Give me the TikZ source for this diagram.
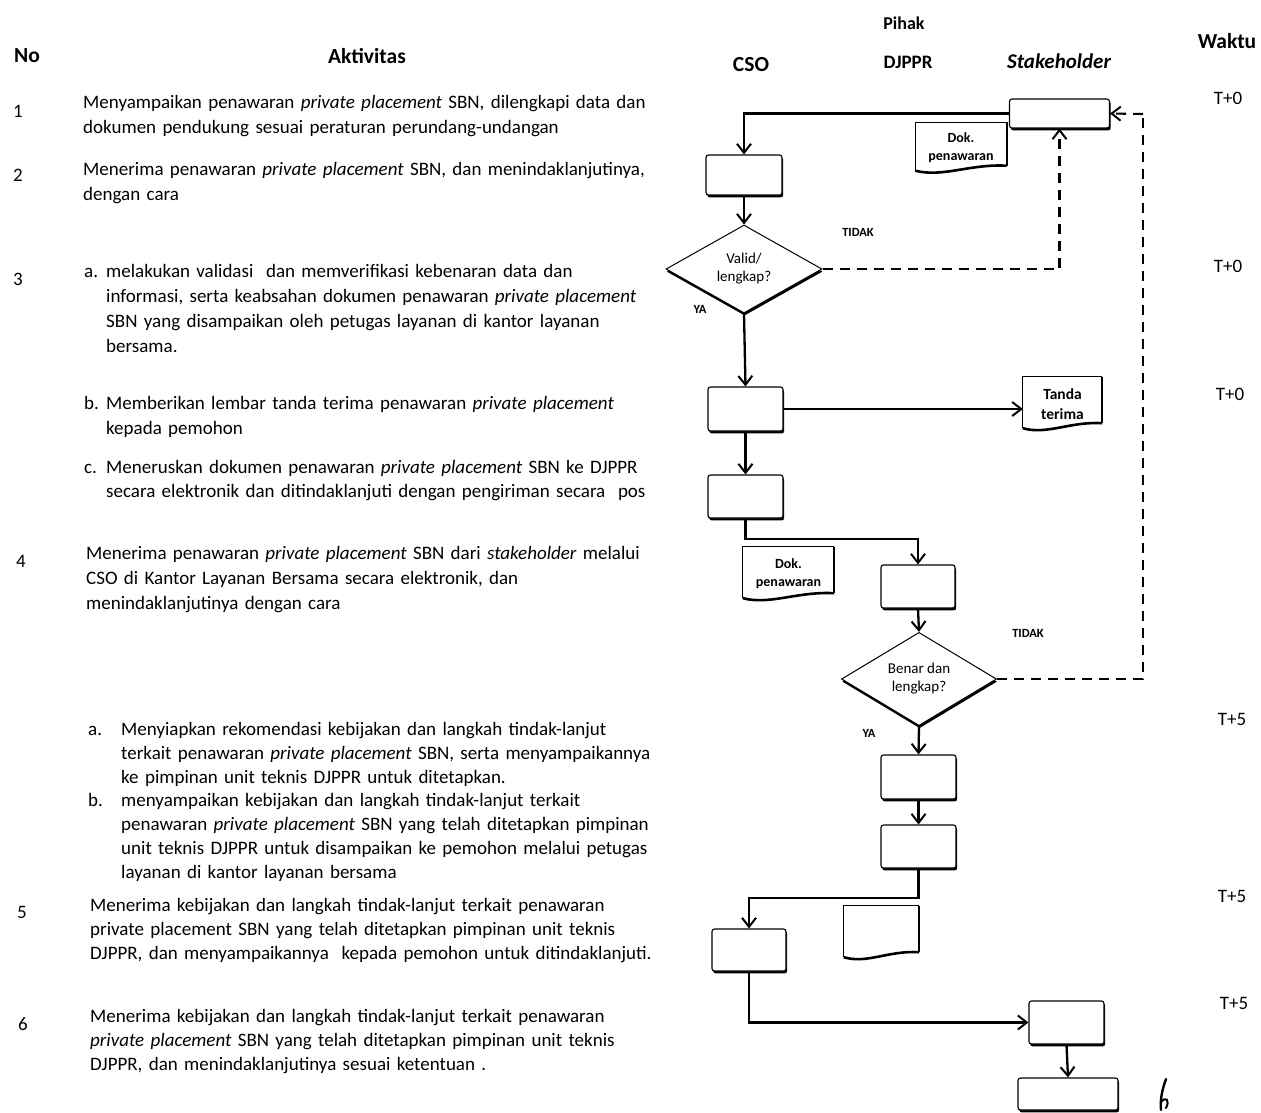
\documentclass[tikz,border=0pt]{standalone}
\usepackage{fontspec}
\setmainfont{Carlito}
\usetikzlibrary{arrows.meta,shapes.geometric,shadows,calc}
\newcommand\docshape[1]{%
  \draw[line width=1.1pt] ($(#1.south west)+(0pt,3pt)$) -- (#1.north west) -- (#1.north east);
  \draw[line width=1.8pt] (#1.north east) -- ($(#1.south east)+(0pt,8pt)$);
  \draw[line width=2.6pt] ($(#1.south west)+(0pt,3pt)$) .. controls ($(#1.south west)!0.3!(#1.south east)+(0pt,-4pt)$) and ($(#1.south west)!0.6!(#1.south east)+(0pt,10pt)$) .. ($(#1.south east)+(0pt,8pt)$);
}
\begin{document}
\begin{tikzpicture}[x=1pt,y=-1pt,
  para/.style={anchor=base west, inner sep=0pt, align=left, text width=640pt, font=\fontsize{19}{25}\selectfont},
  parb/.style={para, font=\fontsize{19}{24}\selectfont},
  lbl/.style={anchor=base west, inner sep=0pt, font=\fontsize{19}{25}\selectfont},
  hdr/.style={inner sep=0pt, font=\bfseries\fontsize{21.5}{24}\selectfont},
  tm/.style={inner sep=0pt, font=\fontsize{19}{22}\selectfont},
  box/.style={rectangle, rounded corners=2.5pt, draw, line width=1.1pt, fill=white, inner sep=0pt,
    drop shadow={shadow xshift=1.2pt, shadow yshift=-2.4pt, opacity=1, fill=black}},
  dec/.style={diamond, draw, line width=1pt, fill=white, inner sep=0pt, align=center,
    font=\fontsize{15}{18}\selectfont,
    drop shadow={shadow xshift=0.6pt, shadow yshift=-2.6pt, opacity=1, fill=black}},
  doc/.style={rectangle, inner sep=0pt, align=center},
  yn/.style={inner sep=0pt, font=\bfseries\fontsize{12.5}{14}\selectfont},
  arr/.style={line width=2.3pt, -{Straight Barb[length=9pt,width=14pt,line width=2pt]}},
  darr/.style={line width=2.1pt, dash pattern=on 10pt off 7pt, -{Straight Barb[length=9pt,width=14pt,line width=2pt]}},
  dln/.style={line width=2.1pt, dash pattern=on 10pt off 7pt}
]
\useasboundingbox (0,0) rectangle (1261,1112);
\fill[white] (0,0) rectangle (1261,1112);

% headers
\node[hdr] (hno) at (27,56) {No};
\node[hdr] (hakt) at (367,56) {Aktivitas};
\node[hdr, font=\bfseries\fontsize{18}{22}\selectfont] (hpihak) at (904,23) {Pihak};
\node[hdr] (hcso) at (751,65) {CSO};
\node[hdr, font=\bfseries\fontsize{19}{22}\selectfont] (hdj) at (908,62) {DJPPR};
\node[hdr, font=\bfseries\itshape\fontsize{21}{24}\selectfont] (hst) at (1059,61) {Stakeholder};
\node[hdr] (hwak) at (1227,41) {Waktu};

% numbers
\node[lbl] (n1) at (13,117) {1};
\node[lbl] (n2) at (13,181) {2};
\node[lbl] (n3) at (13,285) {3};
\node[lbl] (n4) at (16,567) {4};
\node[lbl] (n5) at (17,918) {5};
\node[lbl] (n6) at (18,1030) {6};

% activity texts
\node[para] (t1) at (83,108) {Menyampaikan penawaran \textit{private placement} SBN, dilengkapi data dan\\dokumen pendukung sesuai peraturan perundang-undangan};
\node[para] (t2) at (83,175) {Menerima penawaran \textit{private placement} SBN, dan menindaklanjutinya,\\dengan cara};
\node[lbl] (l3a) at (84,277) {a.};
\node[para] (t3a) at (106,277) {melakukan validasi\ \ dan memverifikasi kebenaran data dan\\informasi, serta keabsahan dokumen penawaran \textit{private placement}\\SBN yang disampaikan oleh petugas layanan di kantor layanan\\bersama.};
\node[lbl] (l3b) at (84,409) {b.};
\node[para] (t3b) at (106,409) {Memberikan lembar tanda terima penawaran \textit{private placement}\\kepada pemohon};
\node[lbl] (l3c) at (84,473) {c.};
\node[para, font=\fontsize{19}{24}\selectfont] (t3c) at (106,473) {Meneruskan dokumen penawaran \textit{private placement} SBN ke DJPPR\\secara elektronik dan ditindaklanjuti dengan pengiriman secara\ \ pos};
\node[para] (t4) at (86,559) {Menerima penawaran \textit{private placement} SBN dari \textit{stakeholder} melalui\\CSO di Kantor Layanan Bersama secara elektronik, dan\\menindaklanjutinya dengan cara};
\node[lbl] (l4a) at (88,735) {a.};
\node[parb] (t4a) at (121,735) {Menyiapkan rekomendasi kebijakan dan langkah tindak-lanjut\\terkait penawaran \textit{private placement} SBN, serta menyampaikannya\\ke pimpinan unit teknis DJPPR untuk ditetapkan.};
\node[lbl] (l4b) at (88,806) {b.};
\node[parb] (t4b) at (121,806) {menyampaikan kebijakan dan langkah tindak-lanjut terkait\\penawaran \textit{private placement} SBN yang telah ditetapkan pimpinan\\unit teknis DJPPR untuk disampaikan ke pemohon melalui petugas\\layanan di kantor layanan bersama};
\node[parb] (t5) at (90,911) {Menerima kebijakan dan langkah tindak-lanjut terkait penawaran\\private placement SBN yang telah ditetapkan pimpinan unit teknis\\DJPPR, dan menyampaikannya\ \ kepada pemohon untuk ditindaklanjuti.};
\node[parb] (t6) at (90,1022) {Menerima kebijakan dan langkah tindak-lanjut terkait penawaran\\\textit{private placement} SBN yang telah ditetapkan pimpinan unit teknis\\DJPPR, dan menindaklanjutinya sesuai ketentuan .};

% time labels
\node[tm] (w1) at (1228,98) {T+0};
\node[tm] (w2) at (1228,266) {T+0};
\node[tm] (w3) at (1230,394) {T+0};
\node[tm] (w4) at (1232,719) {T+5};
\node[tm] (w5) at (1232,896) {T+5};
\node[tm] (w6) at (1234,1003) {T+5};

% flowchart nodes
\node[box, minimum width=100pt, minimum height=29pt] (s1) at (1059.5,113.5) {};
\node[doc, minimum width=91pt, minimum height=51pt, font=\bfseries\fontsize{14}{18}\selectfont] (doc1) at (961,148) {Dok.\\penawaran};
\docshape{doc1}
\node[box, minimum width=76pt, minimum height=40pt] (c1) at (744,175) {};
\node[dec, minimum width=156pt, minimum height=88pt] (d1) at (744,269) {Valid/\\lengkap?};
\node[box, minimum width=75pt, minimum height=44pt] (c2) at (745.5,409) {};
\node[doc, minimum width=79pt, minimum height=54pt, font=\bfseries\fontsize{15.5}{20}\selectfont] (doc2) at (1062.5,404) {Tanda\\terima};
\docshape{doc2}
\node[box, minimum width=75pt, minimum height=43pt] (c3) at (745.5,496.5) {};
\node[doc, minimum width=91pt, minimum height=54pt, font=\bfseries\fontsize{14}{18}\selectfont] (doc3) at (788.5,574) {Dok.\\penawaran};
\docshape{doc3}
\node[box, minimum width=74pt, minimum height=43pt] (j1) at (918,586.5) {};
\node[dec, minimum width=155pt, minimum height=92pt] (d2) at (919,679) {Benar dan\\lengkap?};
\node[box, minimum width=75pt, minimum height=44pt] (j2) at (918.5,777) {};
\node[box, minimum width=75pt, minimum height=43pt] (j3) at (918.5,846.5) {};
\node[doc, minimum width=75pt, minimum height=54pt] (doc4) at (881.5,933) {};
\docshape{doc4}
\node[box, minimum width=74pt, minimum height=42pt] (c4) at (749,950) {};
\node[box, minimum width=75pt, minimum height=43pt] (s2) at (1066.5,1022.5) {};
\node[box, minimum width=100pt, minimum height=32pt] (s3) at (1068,1094) {};

% labels on branches
\node[yn] (tidak1) at (858,232) {TIDAK};
\node[yn] (ya1) at (700,309) {YA};
\node[yn] (tidak2) at (1028,633) {TIDAK};
\node[yn] (ya2) at (869,733) {YA};

% connectors
\draw[arr] (s1.west) -| (c1.north);
\draw[arr] (c1.south) -- (d1.north);
\draw[arr] (d1.south) -- (c2.north);
\draw[arr] (c2.east) -- (c2.east -| doc2.west);
\draw[arr] (c2.south) -- (c3.north);
\draw[arr] (c3.south) |- (j1.north |- 0,539) -- (j1.north);
\draw[arr] (j1.south) -- (d2.north);
\draw[arr] (d2.south) -- (j2.north);
\draw[arr] (j2.south) -- (j3.north);
\draw[arr] (j3.south) |- (c4.north |- 0,898) -- (c4.north);
\draw[arr] (c4.south) |- (s2.west);
\draw[arr] (s2.south) -- (s3.north);

% dashed returns
\draw[darr] (d1.east) -| (s1.south);
\coordinate (rt) at (1143,114);
\draw[dln] (d2.east) -| (rt);
\draw[darr] (rt) -- (s1.east);

% handwritten mark
\draw[line width=2.4pt, line cap=round] (1166,1079) .. controls (1162,1090) and (1160,1100) .. (1161,1110);
\draw[line width=2pt, line cap=round] (1161,1102) .. controls (1166,1096) and (1170,1100) .. (1166,1108);
\end{tikzpicture}
\end{document}
